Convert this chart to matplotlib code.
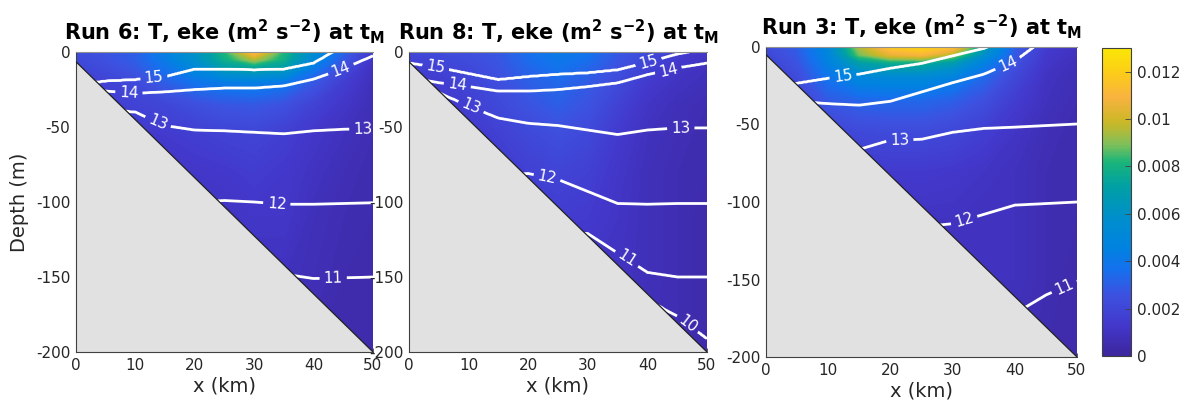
import numpy as np
import matplotlib
matplotlib.use('Agg')
import matplotlib.pyplot as plt
from matplotlib.colors import LinearSegmentedColormap

plt.rcParams['font.family'] = ['DejaVu Sans']
plt.rcParams['axes.unicode_minus'] = False

# ---------------- data ----------------
RUN_NAMES = ['Run 6', 'Run 8', 'Run 3']
X_KM = [0, 5, 10, 15, 20, 25, 30, 35, 40, 45, 50]
EKE_DEPTHS = [0, 5, 10, 20, 35, 55, 80, 110, 150, 200]

# eke in 1e-3 m^2 s^-2, rows = EKE_DEPTHS, cols = X_KM
EKE_RUN6 = [
    [2.2, 2.6, 3.0, 4.4, 6.0, 8.2, 11.5, 8.2, 5.4, 3.2, 1.3],
    [2.1, 2.5, 3.0, 4.2, 5.8, 7.8, 9.5, 7.8, 5.0, 2.8, 1.1],
    [1.9, 2.3, 2.8, 3.8, 5.0, 7.0, 7.5, 7.0, 4.2, 2.3, 0.9],
    [1.5, 1.8, 2.2, 3.0, 3.8, 4.2, 4.4, 4.0, 2.8, 1.6, 0.8],
    [1.2, 1.5, 1.8, 2.0, 2.4, 2.7, 2.8, 2.5, 1.8, 1.2, 0.7],
    [1.0, 1.2, 1.3, 1.4, 1.6, 1.8, 1.9, 1.6, 1.2, 0.9, 0.6],
    [0.8, 1.0, 1.0, 1.1, 1.2, 1.3, 1.5, 1.3, 1.0, 0.7, 0.5],
    [0.6, 0.7, 0.8, 0.8, 0.9, 1.0, 1.2, 1.2, 0.8, 0.6, 0.5],
    [0.5, 0.5, 0.5, 0.6, 0.7, 0.8, 0.9, 0.9, 0.7, 0.5, 0.4],
    [0.4, 0.4, 0.4, 0.4, 0.5, 0.5, 0.6, 0.6, 0.5, 0.4, 0.4],
]
EKE_RUN8 = [
    [2.0, 2.2, 2.4, 2.8, 3.6, 4.2, 3.8, 2.8, 2.2, 1.6, 1.2],
    [1.8, 2.0, 2.3, 2.7, 3.5, 4.0, 3.6, 2.7, 2.0, 1.4, 1.0],
    [1.6, 1.8, 2.1, 2.6, 3.3, 3.8, 3.3, 2.5, 1.8, 1.2, 0.9],
    [1.3, 1.5, 1.9, 2.4, 3.0, 3.4, 2.9, 2.2, 1.4, 1.0, 0.8],
    [1.1, 1.3, 1.6, 2.1, 2.6, 3.0, 2.6, 1.8, 1.1, 0.8, 0.6],
    [1.0, 1.1, 1.3, 1.7, 2.1, 2.4, 2.1, 1.4, 0.9, 0.7, 0.5],
    [0.8, 0.9, 1.1, 1.3, 1.7, 1.9, 1.7, 1.2, 0.8, 0.6, 0.5],
    [0.7, 0.8, 0.9, 1.0, 1.3, 1.5, 1.4, 1.1, 0.8, 0.6, 0.4],
    [0.6, 0.6, 0.7, 0.8, 0.9, 1.0, 1.1, 1.0, 0.8, 0.6, 0.4],
    [0.5, 0.5, 0.5, 0.6, 0.7, 0.7, 0.8, 0.8, 0.7, 0.6, 0.4],
]
EKE_RUN3 = [
    [2.2, 3.0, 5.0, 9.5, 11.8, 12.2, 11.5, 7.0, 3.0, 1.5, 1.0],
    [2.0, 2.8, 4.8, 8.8, 10.5, 11.0, 9.5, 5.8, 2.8, 1.3, 0.9],
    [1.8, 2.6, 4.5, 7.0, 7.8, 7.8, 6.8, 4.6, 2.5, 1.2, 0.8],
    [1.5, 2.2, 3.8, 4.9, 5.1, 5.1, 4.5, 3.3, 2.0, 1.0, 0.7],
    [1.2, 1.8, 2.8, 3.2, 3.3, 3.3, 3.0, 2.4, 1.5, 0.9, 0.6],
    [1.0, 1.3, 1.8, 2.1, 2.2, 2.2, 2.0, 1.6, 1.1, 0.7, 0.5],
    [0.8, 1.0, 1.2, 1.3, 1.4, 1.4, 1.3, 1.1, 0.9, 0.6, 0.5],
    [0.6, 0.7, 0.8, 0.9, 0.9, 1.0, 1.0, 0.9, 0.9, 0.6, 0.5],
    [0.5, 0.5, 0.6, 0.6, 0.7, 0.7, 0.8, 0.9, 0.9, 0.6, 0.4],
    [0.4, 0.4, 0.4, 0.5, 0.5, 0.5, 0.6, 0.7, 0.7, 0.5, 0.4],
]

# isotherm depths (m, positive down) at X_KM; values beyond bottom lie in the ground
ISO_LEVELS = [15, 14, 13, 12, 11, 10]
ISO_RUN6 = {
    15: [22, 19.5, 18.5, 16.5, 11.5, 11.5, 12, 11.5, 7.5, -4, -12],
    14: [30, 26, 27.5, 26.5, 25, 24, 24, 22.5, 18, 11, 2.5],
    13: [40, 38, 40, 49, 52, 52.5, 53.5, 54.5, 52.5, 51.5, 51],
    12: [100, 100, 100, 100, 100, 99, 100, 101.5, 101.5, 101, 100.5],
    11: [148, 148, 148, 148, 148, 148, 148, 148, 151, 150.5, 150],
    10: [230, 230, 230, 230, 230, 230, 230, 230, 230, 230, 230],
}
ISO_RUN8 = {
    15: [7.5, 10.5, 14.5, 18.5, 16.5, 15, 14, 12, 7, 1.5, -2],
    14: [17, 20.5, 23, 26, 26, 25, 23, 20.5, 15, 10.5, 7.3],
    13: [25, 27, 36, 44, 47.5, 49, 52, 55, 52, 50.6, 50.6],
    12: [82, 82, 82, 82, 81, 85, 93, 101, 101.5, 101, 101],
    11: [120, 120, 120, 120, 120, 120, 121, 134, 147, 150, 150],
    10: [165, 165, 165, 165, 165, 165, 165, 165, 165, 176, 191],
}
ISO_RUN3 = {
    15: [26, 23.5, 20.3, 17.6, 13.8, 10.7, 5.8, 1, -6, -15, -20],
    14: [35, 35, 36.5, 37.5, 35, 29, 23, 17.5, 9, -6, -14],
    13: [66, 66, 66, 66, 60, 59.5, 55, 52.5, 51.7, 50.7, 49.7],
    12: [116, 116, 116, 116, 116, 116, 114, 108, 102, 101, 100],
    11: [172, 172, 172, 172, 172, 172, 172, 172, 172, 160, 151],
    10: [240, 240, 240, 240, 240, 240, 240, 240, 240, 240, 240],
}

# sloping bottom: depth at x = 0 and x = 50 km
BOTTOM_X = [0, 50]
BOTTOM_RUN6 = [6.5, 200]
BOTTOM_RUN8 = [6.5, 200]
BOTTOM_RUN3 = [5.0, 200]

CB_TICKS = [0, 0.002, 0.004, 0.006, 0.008, 0.01, 0.012]
CB_TICKLABELS = ['0', '0.002', '0.004', '0.006', '0.008', '0.01', '0.012']
X_TICKS = [0, 10, 20, 30, 40, 50]
Y_TICKS = [0, -50, -100, -150, -200]
EKE_MAX = 0.013

# label positions (x km, elevation m)
LABELS_RUN6 = [(13.1, -16), (8.9, -27.3), (44.6, -11.5), (13.8, -46.7), (48.3, -51),
               (33.8, -101), (43.3, -151)]
LABELS_RUN8 = [(4.5, -9.5), (40.1, -6), (8.2, -19.5), (43.5, -12), (10.7, -34),
               (45.6, -50.7), (23.2, -83), (36.6, -137.5), (46.6, -182)]
LABELS_RUN3 = [(12.4, -19.4), (38.9, -11), (21.5, -60), (32, -113.7), (47.8, -153.5)]

# ---------------- colormap (parula-like) ----------------
PARULA = [
    (0.00, (0.24, 0.15, 0.62)),
    (0.10, (0.26, 0.22, 0.80)),
    (0.20, (0.24, 0.32, 0.88)),
    (0.28, (0.08, 0.44, 0.93)),
    (0.35, (0.00, 0.51, 0.88)),
    (0.45, (0.00, 0.56, 0.80)),
    (0.55, (0.00, 0.63, 0.64)),
    (0.63, (0.10, 0.71, 0.48)),
    (0.69, (0.50, 0.75, 0.35)),
    (0.76, (0.80, 0.72, 0.15)),
    (0.84, (0.97, 0.70, 0.25)),
    (0.92, (0.99, 0.80, 0.10)),
    (1.00, (0.98, 0.90, 0.02)),
]
cmap = LinearSegmentedColormap.from_list('parula_like', PARULA, N=256)

# ---------------- figure ----------------
fig = plt.figure(figsize=(11.85, 4.05), dpi=100)
W, H = 1185, 405
axes_px = [(76, 52, 297, 300), (409, 52, 298, 300), (766, 47, 311, 310)]

runs = [
    (RUN_NAMES[0], EKE_RUN6, ISO_RUN6, BOTTOM_RUN6, LABELS_RUN6),
    (RUN_NAMES[1], EKE_RUN8, ISO_RUN8, BOTTOM_RUN8, LABELS_RUN8),
    (RUN_NAMES[2], EKE_RUN3, ISO_RUN3, BOTTOM_RUN3, LABELS_RUN3),
]

cf_levels = np.linspace(0, EKE_MAX, 131)
z_fine = np.linspace(0, 200, 401)
x_fine = np.linspace(0, 50, 201)
xk = np.array(X_KM, float)
cf = None
for i, (name, eke, iso, bottom, lab_pos) in enumerate(runs):
    l, t, w, h = axes_px[i]
    ax = fig.add_axes([l / W, (H - t - h) / H, w / W, h / H])
    eke_arr = np.array(eke) * 1e-3
    cf = ax.contourf(xk, -np.array(EKE_DEPTHS, float), eke_arr, levels=cf_levels,
                     cmap=cmap, vmin=0, vmax=EKE_MAX, zorder=1)

    # temperature field whose isotherms follow the read depths (linear between stations)
    iso_fine = {lv: np.interp(x_fine, xk, iso[lv]) for lv in ISO_LEVELS}
    T = np.zeros((len(z_fine), len(x_fine)))
    for j in range(len(x_fine)):
        dep = [-60] + [iso_fine[lv][j] for lv in ISO_LEVELS] + [400]
        tmp = [16] + ISO_LEVELS + [9]
        T[:, j] = np.interp(z_fine, dep, tmp)
    cs = ax.contour(x_fine, -z_fine, T, levels=sorted(ISO_LEVELS), colors='white',
                    linewidths=2.0, zorder=2)
    ax.clabel(cs, manual=lab_pos, inline=True, fmt='%d', fontsize=11,
              colors='white', inline_spacing=4)

    # ground
    bx = BOTTOM_X
    bz = [-bottom[0], -bottom[1]]
    ax.fill([bx[0], bx[1], bx[0]], [bz[0], bz[1], -200], color='#e1e1e1', zorder=2.5, lw=0)
    ax.plot(bx, bz, color='#202020', lw=0.9, zorder=2.6)

    ax.set_xlim(0, 50)
    ax.set_ylim(-200, 0)
    ax.set_xticks(X_TICKS)
    ax.set_yticks(Y_TICKS)
    ax.set_xticklabels([str(v) for v in X_TICKS])
    ax.set_yticklabels([str(v) for v in Y_TICKS])
    ax.tick_params(direction='in', length=3, width=0.6, labelsize=11,
                   colors='#404040', labelcolor='#262626', pad=4)
    for s in ['left', 'bottom']:
        ax.spines[s].set_color('#404040')
        ax.spines[s].set_linewidth(0.8)
    ax.spines['top'].set_color('#909090')
    ax.spines['top'].set_linewidth(0.8)
    ax.spines['right'].set_visible(False)
    ax.set_xlabel('x (km)', fontsize=14, color='#262626', labelpad=3)
    if i == 0:
        ax.set_ylabel('Depth (m)', fontsize=14, color='#262626', labelpad=5)
    title = name + r': T, eke (m$^{\mathbf{2}}$ s$^{\mathbf{-2}}$) at t$_{\mathbf{M}}$'
    ax.set_title(title, fontsize=15, fontweight='bold', pad=9)

cax = fig.add_axes([1102 / W, (H - 356) / H, 29 / W, 308 / H])
cb = fig.colorbar(cf, cax=cax, ticks=CB_TICKS)
cb.set_ticklabels(CB_TICKLABELS)
cb.ax.set_ylim(0, EKE_MAX)
cb.ax.tick_params(direction='in', length=4, width=0.6, labelsize=11,
                  colors='#404040', labelcolor='#262626', pad=4)
cb.outline.set_edgecolor('#404040')
cb.outline.set_linewidth(0.8)

fig.savefig('out.png', dpi=100)
